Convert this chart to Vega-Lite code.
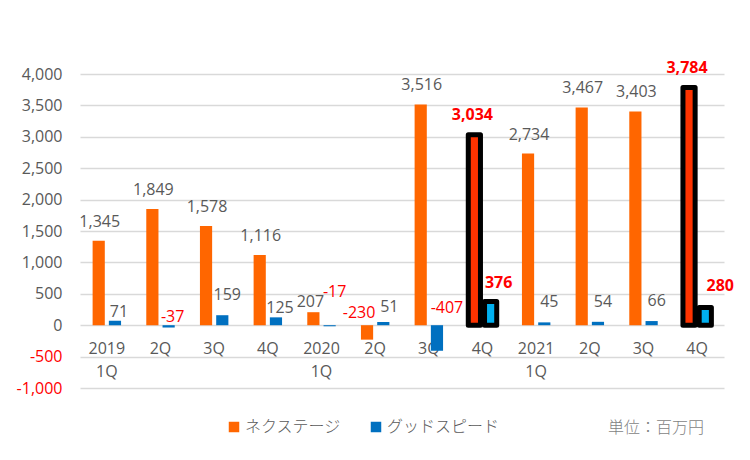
{
  "$schema": "https://vega.github.io/schema/vega-lite/v6.json",
  "autosize": {"type": "none"},
  "width": 644,
  "height": 314,
  "padding": {"left": 80, "top": 74, "right": 26, "bottom": 72},
  "background": "white",
  "title": {
    "text": "単位：百万円", "orient": "bottom", "anchor": "end", "dx": -30, "offset": -15,
    "font": "Noto Sans CJK JP", "fontSize": 16, "fontWeight": 300, "color": "#7F7F7F"
  },
  "config": {
    "view": {"stroke": null},
    "font": "Open Sans",
    "text": {"font": "Open Sans", "fontSize": 16, "baseline": "middle"}
  },
  "data": {
    "values": [
      {"period": "2019 1Q", "series": "ネクステージ", "value": 1345},
      {"period": "2019 1Q", "series": "グッドスピード", "value": 71},
      {"period": "2019 2Q", "series": "ネクステージ", "value": 1849},
      {"period": "2019 2Q", "series": "グッドスピード", "value": -37},
      {"period": "2019 3Q", "series": "ネクステージ", "value": 1578},
      {"period": "2019 3Q", "series": "グッドスピード", "value": 159},
      {"period": "2019 4Q", "series": "ネクステージ", "value": 1116},
      {"period": "2019 4Q", "series": "グッドスピード", "value": 125},
      {"period": "2020 1Q", "series": "ネクステージ", "value": 207},
      {"period": "2020 1Q", "series": "グッドスピード", "value": -17},
      {"period": "2020 2Q", "series": "ネクステージ", "value": -230},
      {"period": "2020 2Q", "series": "グッドスピード", "value": 51},
      {"period": "2020 3Q", "series": "ネクステージ", "value": 3516},
      {"period": "2020 3Q", "series": "グッドスピード", "value": -407},
      {"period": "2020 4Q", "series": "ネクステージ", "value": 3034},
      {"period": "2020 4Q", "series": "グッドスピード", "value": 376},
      {"period": "2021 1Q", "series": "ネクステージ", "value": 2734},
      {"period": "2021 1Q", "series": "グッドスピード", "value": 45},
      {"period": "2021 2Q", "series": "ネクステージ", "value": 3467},
      {"period": "2021 2Q", "series": "グッドスピード", "value": 54},
      {"period": "2021 3Q", "series": "ネクステージ", "value": 3403},
      {"period": "2021 3Q", "series": "グッドスピード", "value": 66},
      {"period": "2021 4Q", "series": "ネクステージ", "value": 3784},
      {"period": "2021 4Q", "series": "グッドスピード", "value": 280}
    ]
  },
  "transform": [
    {"calculate": "datum.period === '2020 4Q' || datum.period === '2021 4Q'", "as": "hl"},
    {"calculate": "max(datum.value, 0)", "as": "labelBase"},
    {"calculate": "replace(format(datum.value, ','), '\u2212', '-')", "as": "lbl"}
  ],
  "encoding": {
    "x": {
      "field": "period", "type": "nominal", "sort": null, "title": null,
      "scale": {"paddingInner": 0.47, "paddingOuter": 0.235},
      "axis": {
        "domain": false, "ticks": false, "labelAngle": 0,
        "labelFont": "Open Sans", "labelFontSize": 16, "labelColor": "#595959",
        "offset": -63, "labelPadding": 15, "labelLineHeight": 23,
        "labelExpr": "indexof(datum.value, '1Q') >= 0 ? [substring(datum.value, 0, 4), '1Q'] : substring(datum.value, 5)"
      }
    },
    "xOffset": {
      "field": "series", "type": "nominal",
      "scale": {"domain": ["ネクステージ", "グッドスピード"], "paddingInner": 0.25, "paddingOuter": 0}
    }
  },
  "layer": [
    {
      "mark": {"type": "bar"},
      "encoding": {
        "y": {
          "field": "value", "type": "quantitative", "title": null,
          "scale": {"domain": [-1000, 4000], "nice": false, "zero": false},
          "axis": {"values": [-1000, -500, 0, 500, 1000, 1500, 2000, 2500, 3000, 3500, 4000], "labelExpr": "replace(format(datum.value, ','), '\u2212', '-')", "labelColor": {"condition": {"test": "datum.value < 0", "value": "#FF0000"}, "value": "#595959"}, "domain": false, "ticks": false, "labelOverlap": false, "labelPadding": 18, "labelFont": "Open Sans", "labelFontSize": 16, "grid": true, "gridColor": "#D9D9D9", "gridWidth": 1.3}
        },
        "color": {
          "field": "series", "type": "nominal",
          "scale": {"domain": ["ネクステージ", "グッドスピード"], "range": ["#FF6600", "#0070C0"]},
          "legend": {
            "title": null, "orient": "none", "direction": "horizontal",
            "legendX": 146, "legendY": 345,
            "symbolType": "square", "symbolSize": 110, "symbolStrokeWidth": 0,
            "labelFont": "Noto Sans CJK JP", "labelFontSize": 16, "labelColor": "#595959",
            "labelFontWeight": 300, "columnPadding": 26, "labelOffset": 3
          }
        }
      }
    },
    {
      "transform": [{"filter": "datum.hl"}],
      "mark": {"type": "bar", "stroke": "black", "strokeWidth": 5, "strokeJoin": "round"},
      "encoding": {
        "y": {"field": "value", "type": "quantitative", "title": null, "axis": {"values": [-1000, -500, 0, 500, 1000, 1500, 2000, 2500, 3000, 3500, 4000], "labelExpr": "replace(format(datum.value, ','), '\u2212', '-')", "labelColor": {"condition": {"test": "datum.value < 0", "value": "#FF0000"}, "value": "#595959"}, "domain": false, "ticks": false, "labelOverlap": false, "labelPadding": 18, "labelFont": "Open Sans", "labelFontSize": 16, "grid": true, "gridColor": "#D9D9D9", "gridWidth": 1.3}},
        "fill": {
          "condition": {"test": "datum.series === 'ネクステージ'", "value": "#FF3300"},
          "value": "#00B0F0"
        }
      }
    },
    {
      "transform": [{"filter": "datum.series === 'ネクステージ' && !datum.hl && datum.value > 300"}],
      "mark": {"type": "text", "dx": 1, "dy": -19, "color": "#595959"},
      "encoding": {"y": {"field": "labelBase", "type": "quantitative", "title": null, "axis": {"values": [-1000, -500, 0, 500, 1000, 1500, 2000, 2500, 3000, 3500, 4000], "labelExpr": "replace(format(datum.value, ','), '\u2212', '-')", "labelColor": {"condition": {"test": "datum.value < 0", "value": "#FF0000"}, "value": "#595959"}, "domain": false, "ticks": false, "labelOverlap": false, "labelPadding": 18, "labelFont": "Open Sans", "labelFontSize": 16, "grid": true, "gridColor": "#D9D9D9", "gridWidth": 1.3}}, "text": {"field": "lbl"}}
    },
    {
      "transform": [{"filter": "datum.value === 207"}],
      "mark": {"type": "text", "dx": -3, "dy": -10, "color": "#595959"},
      "encoding": {"y": {"field": "labelBase", "type": "quantitative", "title": null, "axis": {"values": [-1000, -500, 0, 500, 1000, 1500, 2000, 2500, 3000, 3500, 4000], "labelExpr": "replace(format(datum.value, ','), '\u2212', '-')", "labelColor": {"condition": {"test": "datum.value < 0", "value": "#FF0000"}, "value": "#595959"}, "domain": false, "ticks": false, "labelOverlap": false, "labelPadding": 18, "labelFont": "Open Sans", "labelFontSize": 16, "grid": true, "gridColor": "#D9D9D9", "gridWidth": 1.3}}, "text": {"field": "lbl"}}
    },
    {
      "transform": [{"filter": "datum.value === -230"}],
      "mark": {"type": "text", "dx": -8, "dy": -12, "color": "#FF0000"},
      "encoding": {"y": {"field": "labelBase", "type": "quantitative", "title": null, "axis": {"values": [-1000, -500, 0, 500, 1000, 1500, 2000, 2500, 3000, 3500, 4000], "labelExpr": "replace(format(datum.value, ','), '\u2212', '-')", "labelColor": {"condition": {"test": "datum.value < 0", "value": "#FF0000"}, "value": "#595959"}, "domain": false, "ticks": false, "labelOverlap": false, "labelPadding": 18, "labelFont": "Open Sans", "labelFontSize": 16, "grid": true, "gridColor": "#D9D9D9", "gridWidth": 1.3}}, "text": {"field": "lbl"}}
    },
    {
      "transform": [{"filter": "datum.series === 'グッドスピード' && !datum.hl && (datum.value === 159 || datum.value === 45 || datum.value === 54 || datum.value === 66)"}],
      "mark": {"type": "text", "dx": 5, "dy": -20, "color": "#595959"},
      "encoding": {"y": {"field": "labelBase", "type": "quantitative", "title": null, "axis": {"values": [-1000, -500, 0, 500, 1000, 1500, 2000, 2500, 3000, 3500, 4000], "labelExpr": "replace(format(datum.value, ','), '\u2212', '-')", "labelColor": {"condition": {"test": "datum.value < 0", "value": "#FF0000"}, "value": "#595959"}, "domain": false, "ticks": false, "labelOverlap": false, "labelPadding": 18, "labelFont": "Open Sans", "labelFontSize": 16, "grid": true, "gridColor": "#D9D9D9", "gridWidth": 1.3}}, "text": {"field": "lbl"}}
    },
    {
      "transform": [{"filter": "datum.series === 'グッドスピード' && (datum.value === 71 || datum.value === 125)"}],
      "mark": {"type": "text", "dx": 4, "dy": -9, "color": "#595959"},
      "encoding": {"y": {"field": "labelBase", "type": "quantitative", "title": null, "axis": {"values": [-1000, -500, 0, 500, 1000, 1500, 2000, 2500, 3000, 3500, 4000], "labelExpr": "replace(format(datum.value, ','), '\u2212', '-')", "labelColor": {"condition": {"test": "datum.value < 0", "value": "#FF0000"}, "value": "#595959"}, "domain": false, "ticks": false, "labelOverlap": false, "labelPadding": 18, "labelFont": "Open Sans", "labelFontSize": 16, "grid": true, "gridColor": "#D9D9D9", "gridWidth": 1.3}}, "text": {"field": "lbl"}}
    },
    {
      "transform": [{"filter": "datum.series === 'グッドスピード' && datum.value === 51"}],
      "mark": {"type": "text", "dx": 6, "dy": -15, "color": "#595959"},
      "encoding": {"y": {"field": "labelBase", "type": "quantitative", "title": null, "axis": {"values": [-1000, -500, 0, 500, 1000, 1500, 2000, 2500, 3000, 3500, 4000], "labelExpr": "replace(format(datum.value, ','), '\u2212', '-')", "labelColor": {"condition": {"test": "datum.value < 0", "value": "#FF0000"}, "value": "#595959"}, "domain": false, "ticks": false, "labelOverlap": false, "labelPadding": 18, "labelFont": "Open Sans", "labelFontSize": 16, "grid": true, "gridColor": "#D9D9D9", "gridWidth": 1.3}}, "text": {"field": "lbl"}}
    },
    {
      "transform": [{"filter": "datum.value === -37"}],
      "mark": {"type": "text", "dx": 4, "dy": -8, "color": "#FF0000"},
      "encoding": {"y": {"field": "labelBase", "type": "quantitative", "title": null, "axis": {"values": [-1000, -500, 0, 500, 1000, 1500, 2000, 2500, 3000, 3500, 4000], "labelExpr": "replace(format(datum.value, ','), '\u2212', '-')", "labelColor": {"condition": {"test": "datum.value < 0", "value": "#FF0000"}, "value": "#595959"}, "domain": false, "ticks": false, "labelOverlap": false, "labelPadding": 18, "labelFont": "Open Sans", "labelFontSize": 16, "grid": true, "gridColor": "#D9D9D9", "gridWidth": 1.3}}, "text": {"field": "lbl"}}
    },
    {
      "transform": [{"filter": "datum.value === -17"}],
      "mark": {"type": "text", "dx": 5, "dy": -33, "color": "#FF0000"},
      "encoding": {"y": {"field": "labelBase", "type": "quantitative", "title": null, "axis": {"values": [-1000, -500, 0, 500, 1000, 1500, 2000, 2500, 3000, 3500, 4000], "labelExpr": "replace(format(datum.value, ','), '\u2212', '-')", "labelColor": {"condition": {"test": "datum.value < 0", "value": "#FF0000"}, "value": "#595959"}, "domain": false, "ticks": false, "labelOverlap": false, "labelPadding": 18, "labelFont": "Open Sans", "labelFontSize": 16, "grid": true, "gridColor": "#D9D9D9", "gridWidth": 1.3}}, "text": {"field": "lbl"}}
    },
    {
      "transform": [{"filter": "datum.value === -407"}],
      "mark": {"type": "text", "dx": 10, "dy": -17, "color": "#FF0000"},
      "encoding": {"y": {"field": "labelBase", "type": "quantitative", "title": null, "axis": {"values": [-1000, -500, 0, 500, 1000, 1500, 2000, 2500, 3000, 3500, 4000], "labelExpr": "replace(format(datum.value, ','), '\u2212', '-')", "labelColor": {"condition": {"test": "datum.value < 0", "value": "#FF0000"}, "value": "#595959"}, "domain": false, "ticks": false, "labelOverlap": false, "labelPadding": 18, "labelFont": "Open Sans", "labelFontSize": 16, "grid": true, "gridColor": "#D9D9D9", "gridWidth": 1.3}}, "text": {"field": "lbl"}}
    },
    {
      "transform": [{"filter": "datum.hl && datum.series === 'ネクステージ'"}],
      "mark": {"type": "text", "dx": -2, "dy": -20, "color": "#FF0000", "fontWeight": "bold"},
      "encoding": {"y": {"field": "labelBase", "type": "quantitative", "title": null, "axis": {"values": [-1000, -500, 0, 500, 1000, 1500, 2000, 2500, 3000, 3500, 4000], "labelExpr": "replace(format(datum.value, ','), '\u2212', '-')", "labelColor": {"condition": {"test": "datum.value < 0", "value": "#FF0000"}, "value": "#595959"}, "domain": false, "ticks": false, "labelOverlap": false, "labelPadding": 18, "labelFont": "Open Sans", "labelFontSize": 16, "grid": true, "gridColor": "#D9D9D9", "gridWidth": 1.3}}, "text": {"field": "lbl"}}
    },
    {
      "transform": [{"filter": "datum.hl && datum.value === 376"}],
      "mark": {"type": "text", "dx": 8, "dy": -19, "color": "#FF0000", "fontWeight": "bold"},
      "encoding": {"y": {"field": "labelBase", "type": "quantitative", "title": null, "axis": {"values": [-1000, -500, 0, 500, 1000, 1500, 2000, 2500, 3000, 3500, 4000], "labelExpr": "replace(format(datum.value, ','), '\u2212', '-')", "labelColor": {"condition": {"test": "datum.value < 0", "value": "#FF0000"}, "value": "#595959"}, "domain": false, "ticks": false, "labelOverlap": false, "labelPadding": 18, "labelFont": "Open Sans", "labelFontSize": 16, "grid": true, "gridColor": "#D9D9D9", "gridWidth": 1.3}}, "text": {"field": "lbl"}}
    },
    {
      "transform": [{"filter": "datum.hl && datum.value === 280"}],
      "mark": {"type": "text", "dx": 15, "dy": -22, "color": "#FF0000", "fontWeight": "bold"},
      "encoding": {"y": {"field": "labelBase", "type": "quantitative", "title": null, "axis": {"values": [-1000, -500, 0, 500, 1000, 1500, 2000, 2500, 3000, 3500, 4000], "labelExpr": "replace(format(datum.value, ','), '\u2212', '-')", "labelColor": {"condition": {"test": "datum.value < 0", "value": "#FF0000"}, "value": "#595959"}, "domain": false, "ticks": false, "labelOverlap": false, "labelPadding": 18, "labelFont": "Open Sans", "labelFontSize": 16, "grid": true, "gridColor": "#D9D9D9", "gridWidth": 1.3}}, "text": {"field": "lbl"}}
    }
  ]
}
